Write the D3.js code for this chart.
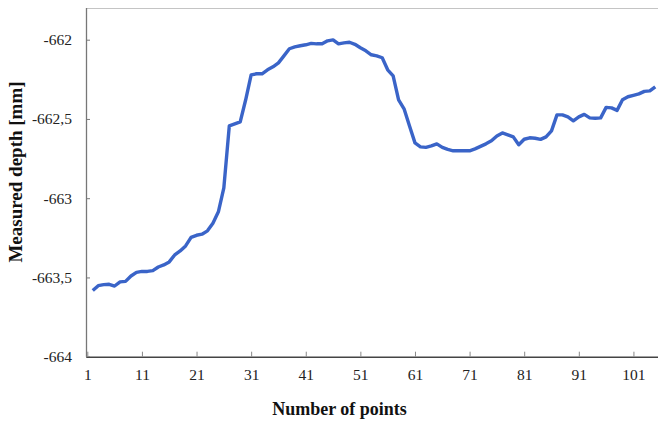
<!DOCTYPE html>
<html>
<head>
<meta charset="utf-8">
<script src="https://cdn.jsdelivr.net/npm/d3@7"></script>
<style>
body { margin: 0; background: #fff; }
svg { display: block; }
.title { font-family: "Liberation Serif", serif; font-weight: bold; fill: #111; }
</style>
</head>
<body>
<script>
var width = 658;
var height = 421;
var margin = {top: 8, right: 0, bottom: 64, left: 86};

// measured depth for points 2..105
var firstPoint = 2;
var depth = [
  -663.583, -663.552, -663.545, -663.543, -663.554, -663.528, -663.525, -663.491, -663.468, -663.462,
  -663.462, -663.457, -663.434, -663.421, -663.402, -663.358, -663.333, -663.301, -663.247, -663.234,
  -663.227, -663.206, -663.158, -663.086, -662.935, -662.544, -662.531, -662.518, -662.379, -662.222,
  -662.215, -662.215, -662.190, -662.171, -662.146, -662.102, -662.057, -662.045, -662.038, -662.032,
  -662.023, -662.026, -662.026, -662.007, -662.001, -662.026, -662.020, -662.016, -662.029, -662.051,
  -662.070, -662.095, -662.102, -662.114, -662.190, -662.228, -662.379, -662.436, -662.544, -662.651,
  -662.676, -662.679, -662.670, -662.657, -662.679, -662.692, -662.701, -662.701, -662.701, -662.701,
  -662.689, -662.673, -662.657, -662.638, -662.607, -662.588, -662.600, -662.613, -662.663, -662.628,
  -662.619, -662.622, -662.629, -662.613, -662.575, -662.474, -662.474, -662.487, -662.512, -662.487,
  -662.471, -662.493, -662.496, -662.493, -662.427, -662.430, -662.446, -662.379, -662.360, -662.351,
  -662.342, -662.326, -662.323, -662.297
];
var xTicks = [1, 11, 21, 31, 41, 51, 61, 71, 81, 91, 101];
var yTicks = [-664, -663.5, -663, -662.5, -662];

var w = width - margin.left - margin.right;
var h = 356.7 - margin.top;

var data = depth.map(function(d, i) { return {n: firstPoint + i, v: d}; });

var x = d3.scaleLinear().domain([0.76, 105.5]).range([0, w]);
var y = d3.scaleLinear().domain([-664, -661.8]).range([h, 0]);

var svg = d3.select("body").append("svg")
  .attr("width", width)
  .attr("height", height)
  .append("g")
  .attr("transform", "translate(" + margin.left + "," + margin.top + ")");

// top border
svg.append("line")
  .attr("x1", 0).attr("x2", w)
  .attr("y1", 0.5).attr("y2", 0.5)
  .attr("stroke", "#c4c4c4")
  .attr("stroke-width", 1.2);

var yAxis = svg.append("g")
  .call(d3.axisLeft(y).tickValues(yTicks).tickSizeInner(-4).tickSizeOuter(0).tickPadding(14)
    .tickFormat(function(d) { return String(d).replace(".", ","); }))
  .attr("font-family", "Liberation Serif, serif")
  .attr("font-size", 15.5);
yAxis.select(".domain").attr("stroke", "#777").attr("stroke-width", 1.3)
  .attr("d", "M0.5," + h + "V0");
yAxis.selectAll(".tick line").attr("stroke", "#777");
yAxis.selectAll(".tick text").attr("fill", "#222");

var xAxis = svg.append("g")
  .attr("transform", "translate(0," + h + ")")
  .call(d3.axisBottom(x).tickValues(xTicks).tickSizeInner(-5).tickSizeOuter(0).tickPadding(20))
  .attr("font-family", "Liberation Serif, serif")
  .attr("font-size", 15.5);
xAxis.select(".domain").attr("stroke", "#444").attr("stroke-width", 1.4);
xAxis.selectAll(".tick line").attr("stroke", "#888");
xAxis.selectAll(".tick text").attr("fill", "#222").attr("dy", "0.2em");

var line = d3.line()
  .x(function(d) { return x(d.n); })
  .y(function(d) { return y(d.v); });

svg.append("path")
  .datum(data)
  .attr("fill", "none")
  .attr("stroke", "#3a64c8")
  .attr("stroke-width", 3.4)
  .attr("stroke-linejoin", "round")
  .attr("d", line);

svg.append("text")
  .attr("class", "title")
  .attr("x", 339.5 - margin.left)
  .attr("y", 415 - margin.top)
  .attr("text-anchor", "middle")
  .style("font-size", "18px")
  .text("Number of points");

svg.append("text")
  .attr("class", "title")
  .attr("transform", "translate(" + (15 - margin.left) + "," + (172 - margin.top) + ") rotate(-90)")
  .attr("text-anchor", "middle")
  .attr("dy", "0.35em")
  .style("font-size", "19px")
  .text("Measured depth [mm]");
</script>
</body>
</html>
